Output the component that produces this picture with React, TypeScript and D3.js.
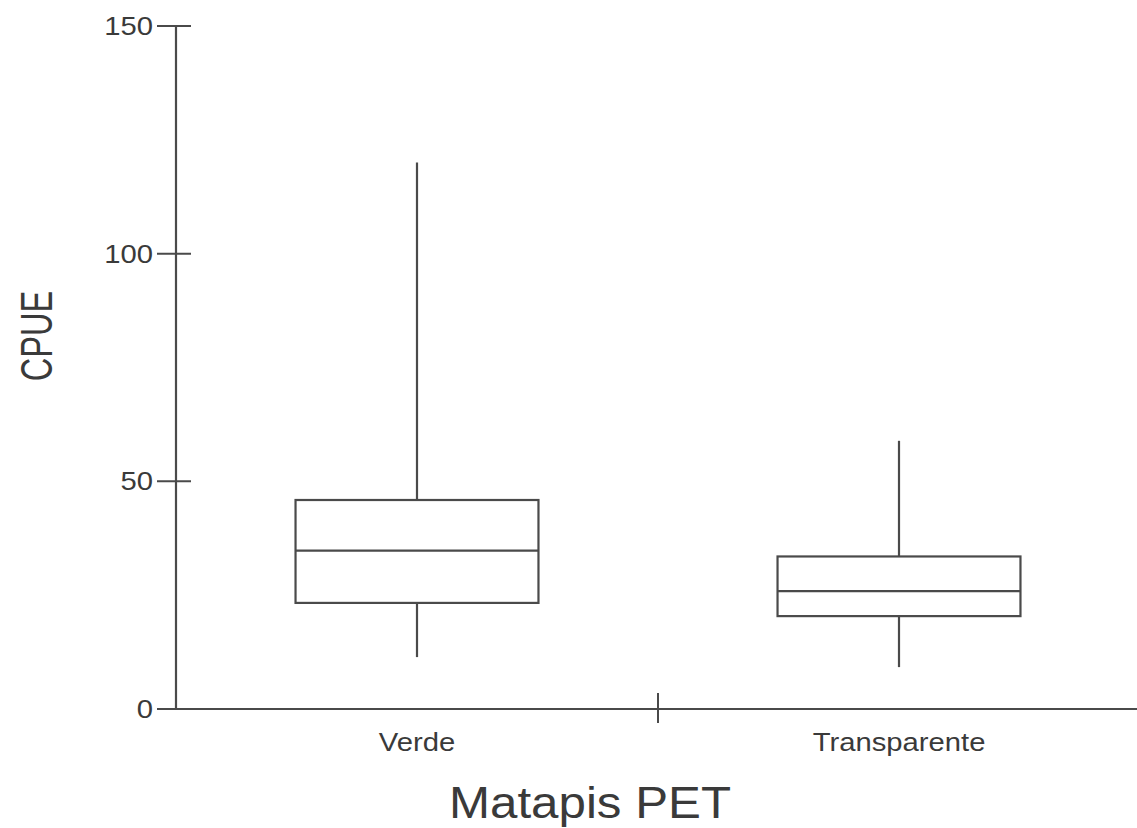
import React, { useRef, useEffect } from 'react';
import * as d3 from 'd3';

// values
const categories = ['Verde', 'Transparente'];
const whiskerLow = [11.4, 9.2];
const q1 = [23.3, 20.4];
const median = [34.8, 25.9];
const q3 = [45.9, 33.5];
const whiskerHigh = [120, 58.9];
const yTicks = [0, 50, 100, 150];

const W = 1137;
const H = 828;
const FONT = '"Liberation Sans", Arial, sans-serif';
const INK = '#4a4a4a';
const TEXT = '#3a3a3a';

const App = () => {
  const container = useRef<HTMLDivElement>(null);

  useEffect(() => {
    if (!container.current) return;
    d3.select(container.current).selectAll('*').remove();

    const svg = d3.select(container.current)
      .append('svg')
      .attr('width', W)
      .attr('height', H)
      .style('display', 'block')
      .style('background', '#fff');

    const x = d3.scaleBand()
      .domain(categories)
      .range([176, 1140])
      .padding(0);

    const y = d3.scaleLinear()
      .domain([0, 150])
      .range([709, 26]);

    const x0 = x.range()[0];

    // y axis
    svg.append('line')
      .attr('x1', x0).attr('x2', x0)
      .attr('y1', y(150)).attr('y2', y(0))
      .attr('stroke', INK).attr('stroke-width', 2.2);

    const yt = svg.append('g');
    yt.selectAll('line')
      .data(yTicks)
      .join('line')
      .attr('x1', x0 - 19).attr('x2', x0 + 15)
      .attr('y1', d => y(d)).attr('y2', d => y(d))
      .attr('stroke', INK).attr('stroke-width', 2);

    yt.selectAll('g.lab')
      .data(yTicks)
      .join('g')
      .attr('class', 'lab')
      .attr('transform', d => `translate(${x0 - 23},${y(d) + 9}) scale(1.17,1)`)
      .append('text')
      .attr('text-anchor', 'end')
      .attr('font-family', FONT)
      .attr('font-size', 25)
      .attr('fill', TEXT)
      .text(d => d);

    // x axis
    svg.append('line')
      .attr('x1', x0).attr('x2', W)
      .attr('y1', y(0)).attr('y2', y(0))
      .attr('stroke', INK).attr('stroke-width', 2.2);

    // separator ticks between categories
    const seps = categories.slice(1).map(c => x(c)!);
    svg.selectAll('line.sep')
      .data(seps)
      .join('line')
      .attr('class', 'sep')
      .attr('x1', d => d).attr('x2', d => d)
      .attr('y1', y(0) - 16).attr('y2', y(0) + 14)
      .attr('stroke', INK).attr('stroke-width', 2);

    svg.selectAll('g.xlab')
      .data(categories)
      .join('g')
      .attr('class', 'xlab')
      .attr('transform', d => `translate(${x(d)! + x.bandwidth() / 2},751) scale(1.17,1)`)
      .append('text')
      .attr('text-anchor', 'middle')
      .attr('font-family', FONT)
      .attr('font-size', 25)
      .attr('fill', TEXT)
      .text(d => d);

    // boxes
    const bw = x.bandwidth() * 0.504;
    const boxes = svg.selectAll('g.box')
      .data(categories)
      .join('g')
      .attr('class', 'box')
      .attr('fill', 'none')
      .attr('stroke', INK)
      .attr('stroke-width', 2.2);

    boxes.each(function (c, i) {
      const g = d3.select(this);
      const cx = x(c)! + x.bandwidth() / 2;
      g.append('line')
        .attr('x1', cx).attr('x2', cx)
        .attr('y1', y(whiskerHigh[i])).attr('y2', y(q3[i]));
      g.append('line')
        .attr('x1', cx).attr('x2', cx)
        .attr('y1', y(q1[i])).attr('y2', y(whiskerLow[i]));
      g.append('rect')
        .attr('x', cx - bw / 2)
        .attr('y', y(q3[i]))
        .attr('width', bw)
        .attr('height', y(q1[i]) - y(q3[i]))
        .attr('fill', '#fff');
      g.append('line')
        .attr('x1', cx - bw / 2).attr('x2', cx + bw / 2)
        .attr('y1', y(median[i])).attr('y2', y(median[i]));
    });

    // axis titles
    svg.append('g')
      .attr('transform', 'translate(590,818) scale(1.12,1)')
      .append('text')
      .attr('text-anchor', 'middle')
      .attr('font-family', FONT)
      .attr('font-size', 44)
      .attr('fill', TEXT)
      .text('Matapis PET');

    svg.append('g')
      .attr('transform', 'translate(52,336) rotate(-90) scale(0.74,1)')
      .append('text')
      .attr('text-anchor', 'middle')
      .attr('font-family', FONT)
      .attr('font-size', 44)
      .attr('fill', TEXT)
      .text('CPUE');
  }, []);

  return (
    <div ref={container} style={{ position: 'absolute', left: 0, top: 0 }} />
  );
};

export default App;
